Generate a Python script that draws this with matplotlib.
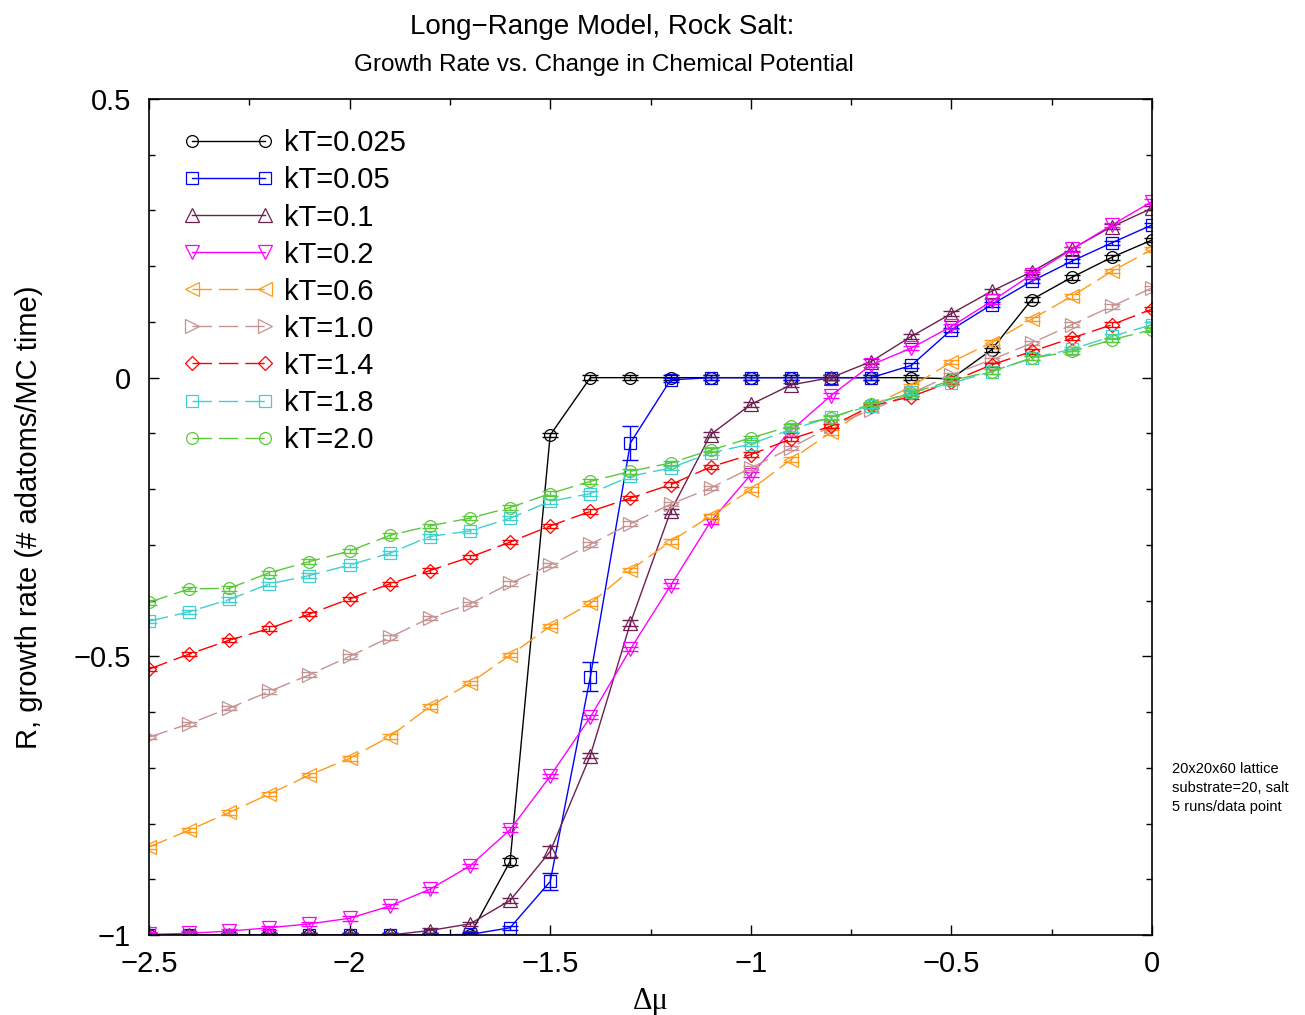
import matplotlib
matplotlib.use("Agg")
import matplotlib.pyplot as plt
import numpy as np

plt.rcParams["font.family"] = ["Liberation Sans", "DejaVu Sans"]
plt.rcParams["axes.unicode_minus"] = True

# delta mu values (x) shared by all series
dmu = [-2.5, -2.4, -2.3, -2.2, -2.1, -2.0, -1.9, -1.8, -1.7, -1.6, -1.5, -1.4, -1.3,
       -1.2, -1.1, -1.0, -0.9, -0.8, -0.7, -0.6, -0.5, -0.4, -0.3, -0.2, -0.1, 0.0]

r_kt0025 = [-1, -1, -1, -1, -1, -1, -1, -1, -1, -0.868, -0.103, 0, 0,
            0, 0, 0, 0, 0, 0, 0, -0.002, 0.05, 0.14, 0.18, 0.216, 0.247]
r_kt005 = [-1, -1, -1, -1, -1, -1, -1, -1, -0.999, -0.987, -0.904, -0.537, -0.117,
           -0.004, 0, 0, 0, 0, 0, 0.022, 0.086, 0.131, 0.173, 0.209, 0.242, 0.274]
r_kt01 = [-1, -1, -1, -1, -1, -1, -1, -0.992, -0.98, -0.938, -0.85, -0.678, -0.44,
          -0.24, -0.102, -0.048, -0.013, 0, 0.029, 0.074, 0.115, 0.155, 0.19, 0.231, 0.271, 0.304]
r_kt02 = [-0.999, -0.997, -0.993, -0.987, -0.98, -0.97, -0.948, -0.918, -0.876, -0.811, -0.715, -0.609, -0.487,
          -0.373, -0.258, -0.174, -0.095, -0.032, 0.023, 0.053, 0.092, 0.137, 0.185, 0.23, 0.274, 0.316]
r_kt06 = [-0.842, -0.812, -0.78, -0.747, -0.713, -0.683, -0.644, -0.59, -0.548, -0.498, -0.446, -0.405, -0.345,
          -0.294, -0.248, -0.201, -0.147, -0.098, -0.051, -0.016, 0.028, 0.063, 0.105, 0.146, 0.191, 0.23]
r_kt10 = [-0.645, -0.621, -0.593, -0.563, -0.533, -0.5, -0.466, -0.431, -0.406, -0.369, -0.336, -0.299, -0.262,
          -0.227, -0.198, -0.162, -0.126, -0.087, -0.058, -0.028, 0.005, 0.032, 0.062, 0.095, 0.128, 0.161]
r_kt14 = [-0.523, -0.496, -0.471, -0.45, -0.424, -0.397, -0.37, -0.346, -0.322, -0.295, -0.266, -0.24, -0.216,
          -0.192, -0.16, -0.138, -0.11, -0.087, -0.051, -0.034, -0.007, 0.023, 0.047, 0.071, 0.095, 0.123]
r_kt18 = [-0.437, -0.42, -0.398, -0.37, -0.355, -0.336, -0.315, -0.285, -0.275, -0.252, -0.222, -0.208, -0.177,
          -0.162, -0.135, -0.119, -0.093, -0.071, -0.05, -0.026, -0.01, 0.011, 0.035, 0.051, 0.074, 0.095]
r_kt20 = [-0.403, -0.379, -0.378, -0.35, -0.33, -0.311, -0.283, -0.266, -0.252, -0.233, -0.208, -0.186, -0.168,
          -0.153, -0.13, -0.108, -0.087, -0.072, -0.047, -0.028, -0.005, 0.011, 0.035, 0.047, 0.068, 0.086]

# error bars: small everywhere, a few larger near the transition
err_default = 0.004
err_big = {
    "kT=0.025": {-1.6: 0.006},
    "kT=0.05": {-1.5: 0.015, -1.4: 0.026, -1.3: 0.031},
    "kT=0.1": {-1.5: 0.010, -1.3: 0.006},
}

labels = ["kT=0.025", "kT=0.05", "kT=0.1", "kT=0.2", "kT=0.6",
          "kT=1.0", "kT=1.4", "kT=1.8", "kT=2.0"]
series = [r_kt0025, r_kt005, r_kt01, r_kt02, r_kt06, r_kt10, r_kt14, r_kt18, r_kt20]
colors = ["#000000", "#0000ff", "#6e1f52", "#ff00ff", "#ff9a1a",
          "#c49494", "#ff0000", "#40d0d0", "#5cc83c"]
markers = ["o", "s", "^", "v", "<", ">", "D", "s", "o"]
msizes = [8.5, 8, 9.5, 9.5, 9.5, 9.5, 7, 8, 8.5]
dashed = [False, False, False, False, True, True, True, True, True]

fig = plt.figure(figsize=(13.05, 10.15), dpi=100)
ax = fig.add_axes([149 / 1305, 1 - 935 / 1015, (1152 - 149) / 1305, (935 - 99) / 1015])

for lab, y, c, m, ms, d in zip(labels, series, colors, markers, msizes, dashed):
    err = [err_big.get(lab, {}).get(x, err_default) for x in dmu]
    ax.errorbar(dmu, y, yerr=err, fmt="none", ecolor=c, elinewidth=1.0,
                capsize=6, capthick=1.0)
    line, = ax.plot(dmu, y, color=c, lw=1.0, marker=m, ms=ms, mfc="none",
                    mec=c, mew=0.9, label=lab)
    if d:
        line.set_dashes((14, 5))

ax.set_xlim(-2.5, 0)
ax.set_ylim(-1, 0.5)
ax.set_xticks([-2.5, -2, -1.5, -1, -0.5, 0])
ax.set_xticklabels(["\u22122.5", "\u22122", "\u22121.5", "\u22121", "\u22120.5", "0"])
ax.set_xticks(np.arange(-2.5, 0.01, 0.25), minor=True)
ax.set_yticks([-1, -0.5, 0, 0.5])
ax.set_yticklabels(["\u22121", "\u22120.5", "0", "0.5"])
ax.set_yticks(np.arange(-1, 0.51, 0.1), minor=True)
ax.tick_params(which="both", direction="in", top=True, right=True, labelsize=21,
               width=1.0, colors="black")
ax.tick_params(which="major", length=7)
ax.tick_params(which="minor", length=4)
ax.tick_params(axis="y", which="major", pad=13)
ax.tick_params(axis="x", which="major", pad=11)
for sp in ax.spines.values():
    sp.set_linewidth(1.2)

ax.set_ylabel("R, growth rate (# adatoms/MC time)", fontsize=21, labelpad=22)
ax.set_xlabel("\u0394\u03bc", fontsize=22, family=["Liberation Serif", "DejaVu Serif"], labelpad=6)

fig.text(602 / 1305, 1 - 27 / 1015, "Long\u2212Range Model, Rock Salt:", fontsize=20,
         ha="center", va="center")
fig.text(604 / 1305, 1 - 65 / 1015, "Growth Rate vs. Change in Chemical Potential",
         fontsize=17.5, ha="center", va="center")

ax.text(1.02, 1 - (788 - 99) / 836, "20x20x60 lattice\nsubstrate=20, salt\n5 runs/data point",
        transform=ax.transAxes, fontsize=10.5, ha="left", va="center", linespacing=1.45)

leg = ax.legend(loc="upper left", bbox_to_anchor=(0.0346, 0.9636), frameon=False,
                fontsize=21, numpoints=2, handlelength=3.1, handletextpad=0.35,
                labelspacing=0.31, borderpad=0, borderaxespad=0)

fig.savefig("out.png", dpi=100)
